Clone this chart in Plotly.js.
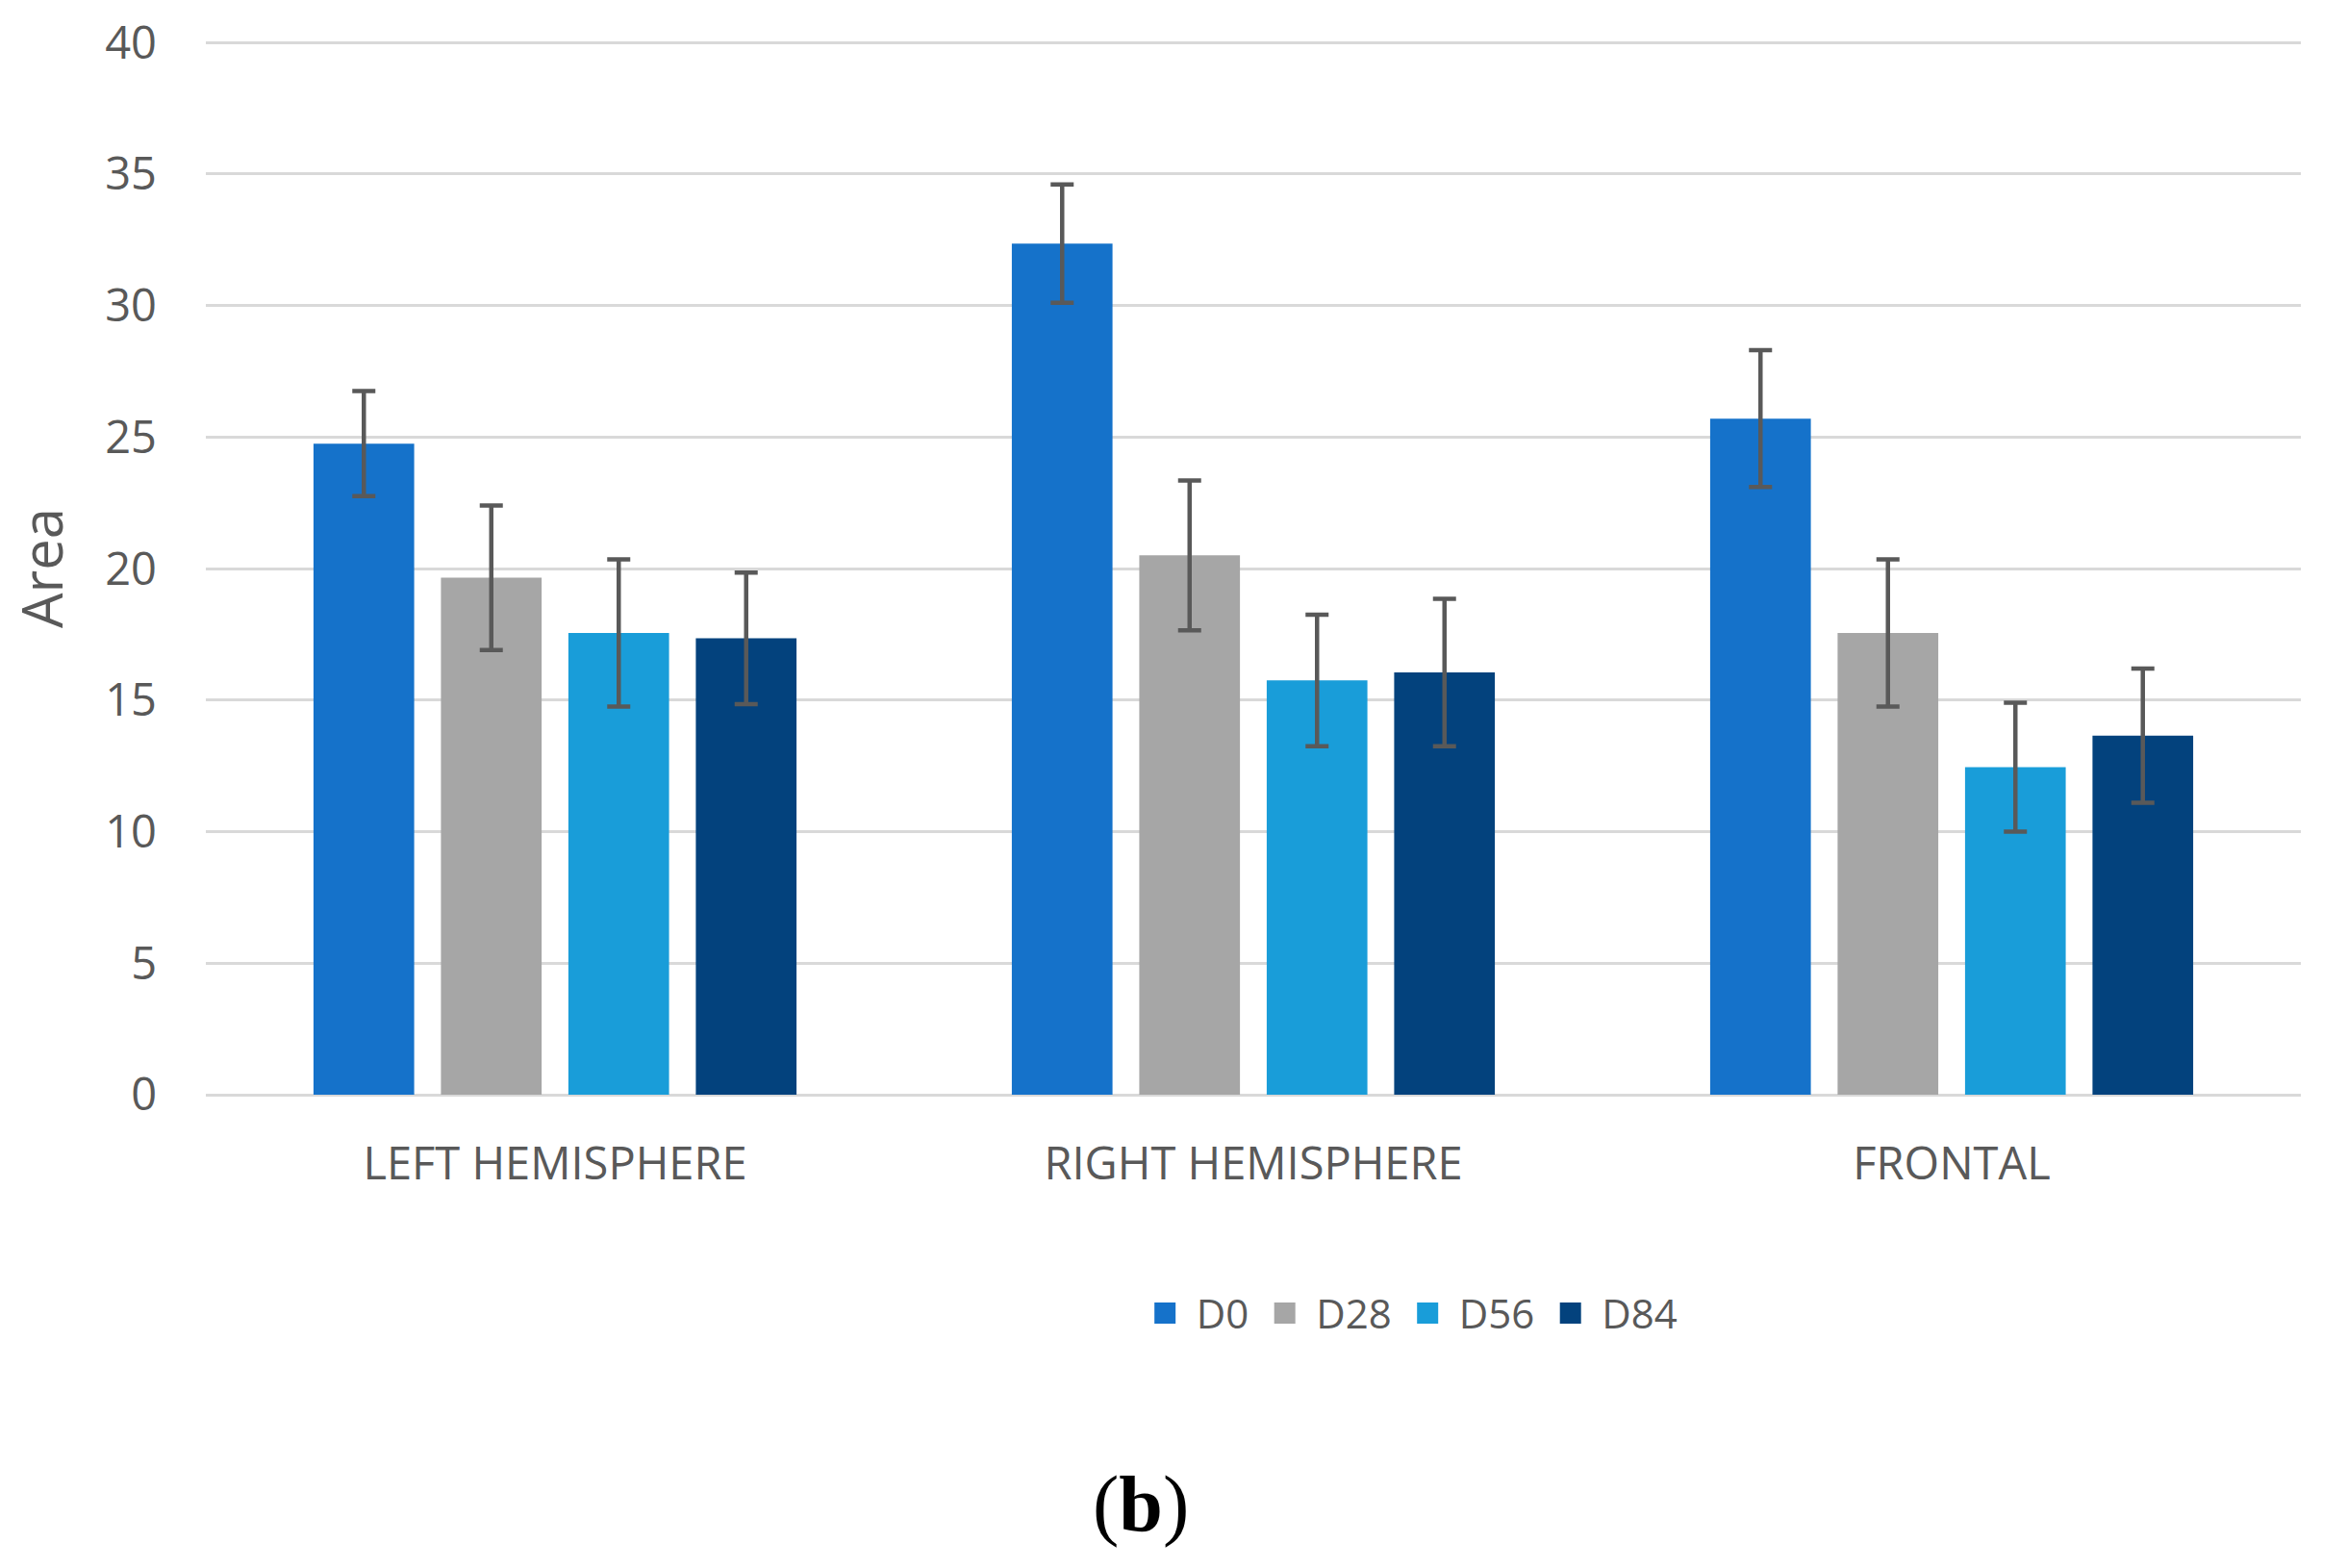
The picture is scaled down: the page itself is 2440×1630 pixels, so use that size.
<!DOCTYPE html>
<html>
<head>
<meta charset="utf-8">
<script src="https://cdn.plot.ly/plotly-3.0.1.min.js"></script>
<style>
  body { margin: 0; background: #fff; }
  #plot { width: 2440px; height: 1630px; }
</style>
</head>
<body>
<div id="plot"></div>
<script>
// categories and series
var regions = ['LEFT HEMISPHERE', 'RIGHT HEMISPHERE', 'FRONTAL'];
var days = ['D0', 'D28', 'D56', 'D84'];

var d0 = [24.75, 32.35, 25.7];
var d28 = [19.65, 20.5, 17.55];
var d56 = [17.55, 15.75, 12.45];
var d84 = [17.35, 16.05, 13.65];

// error (+/-)
var d0Err = [2.0, 2.25, 2.6];
var d28Err = [2.75, 2.85, 2.8];
var d56Err = [2.8, 2.5, 2.45];
var d84Err = [2.5, 2.8, 2.55];

var colors = ['#1572CA', '#A6A6A6', '#199DD9', '#03427D'];
var values = [d0, d28, d56, d84];
var errors = [d0Err, d28Err, d56Err, d84Err];

var traces = [];
for (var i = 0; i < days.length; i++)
{
  traces.push({
    type: 'bar',
    name: days[i],
    x: regions,
    y: values[i],
    marker: {color: colors[i]},
    error_y: {type: 'data', array: errors[i], visible: true,
              color: '#595959', thickness: 4.5, width: 12}
  });
}

var layout = {
  width: 2440,
  height: 1630,
  margin: {l: 214, r: 48, t: 43, b: 492},
  paper_bgcolor: '#ffffff',
  plot_bgcolor: '#ffffff',
  font: {family: 'Open Sans, sans-serif', color: '#595959', size: 42},
  barmode: 'group',
  bargap: 0.27,
  bargroupgap: 0.21,
  showlegend: true,
  legend: {
    orientation: 'h',
    x: 0.574, xanchor: 'center',
    y: -0.2075, yanchor: 'middle',
    itemwidth: 55,
    font: {size: 42, color: '#595959'}
  },
  xaxis: {
    showgrid: false,
    zeroline: false,
    showline: false,
    ticks: '',
    ticklabelstandoff: 40,
    tickfont: {size: 47, color: '#595959'}
  },
  yaxis: {
    range: [0, 40.04],
    tickvals: [0, 5, 10, 15, 20, 25, 30, 35, 40],
    showgrid: true,
    gridcolor: '#D9D9D9',
    gridwidth: 3,
    zeroline: true,
    zerolinecolor: '#D9D9D9',
    zerolinewidth: 3,
    showline: false,
    ticks: '',
    ticklabelstandoff: 50,
    tickfont: {size: 47, color: '#595959'},
    title: {text: 'Area', font: {size: 58, color: '#595959'}, standoff: 24}
  },
  annotations: [{
    text: '(<b>b</b>)',
    xref: 'paper', yref: 'paper',
    x: 0.4465, y: -0.389,
    xanchor: 'center', yanchor: 'middle',
    showarrow: false,
    font: {family: 'Liberation Serif, serif', size: 82, color: '#000000'}
  }]
};

Plotly.newPlot(document.getElementById('plot'), traces, layout, {staticPlot: true}).then(function (gd) {
  // bigger square swatches in the legend
  var pts = gd.querySelectorAll('.legend .legendpoints path');
  for (var j = 0; j < pts.length; j++)
  {
    pts[j].setAttribute('d', 'M11,11H-11V-11H11Z');
  }
});
</script>
</body>
</html>
